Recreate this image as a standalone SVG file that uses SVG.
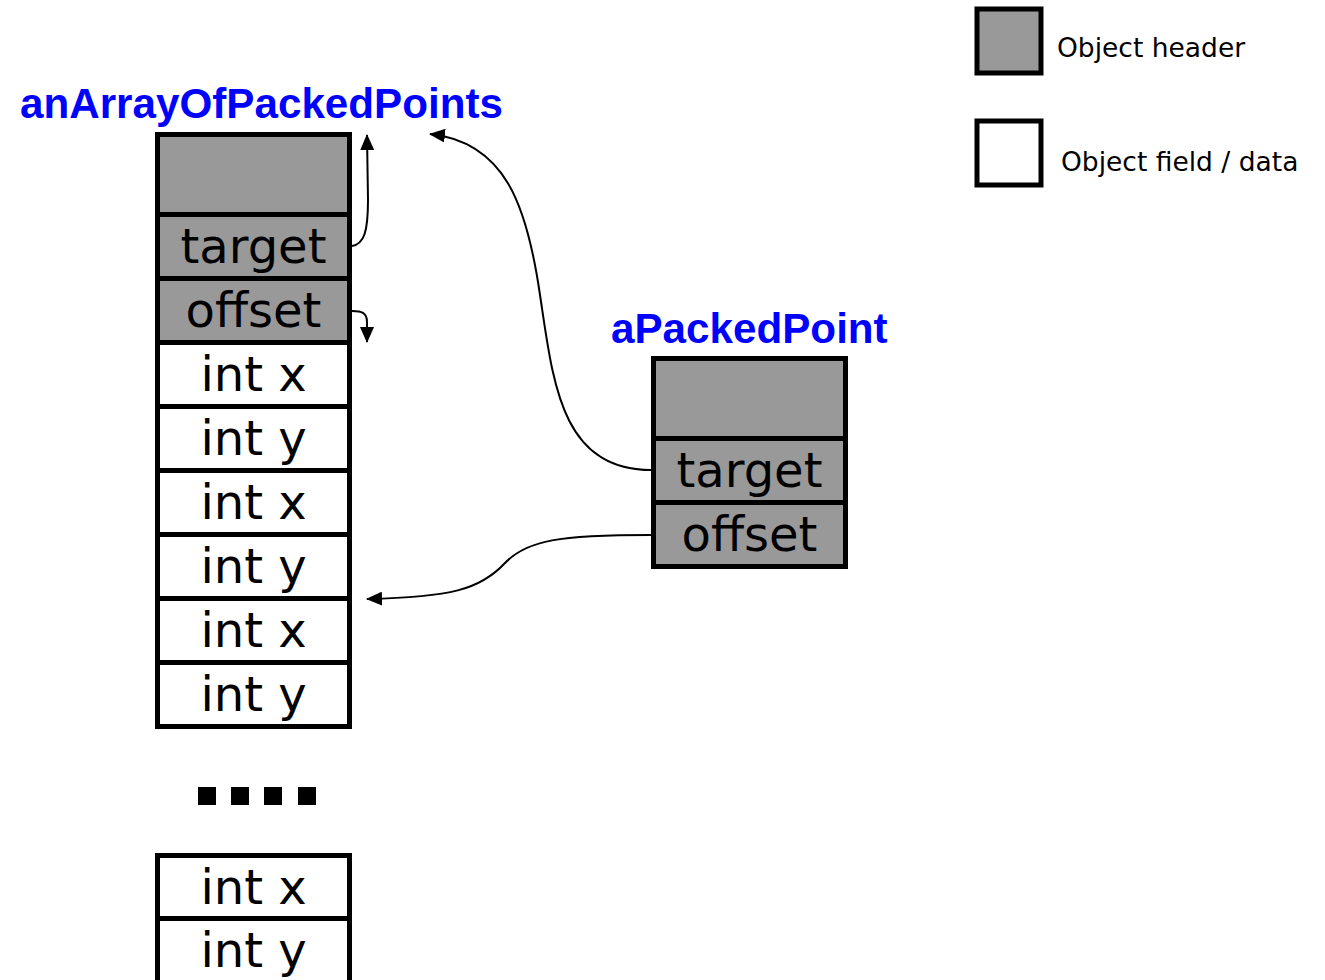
<svg xmlns="http://www.w3.org/2000/svg" width="1325" height="980" viewBox="0 0 1325 980">
  <defs>
    <marker id="arrow" viewBox="0 0 16 14" refX="15" refY="7" markerWidth="16" markerHeight="14" markerUnits="userSpaceOnUse" orient="auto">
      <path d="M0,0 L16,7 L0,14 Z" fill="#000"/>
    </marker>
  </defs>
  <style>
    .hdr { fill: #999999; stroke: #000; stroke-width: 5; }
    .fld { fill: #ffffff; stroke: #000; stroke-width: 5; }
    .cell { font-family: "DejaVu Sans", Verdana, sans-serif; font-size: 48px; fill: #000; text-anchor: middle; }
    .title { font-family: "Liberation Sans", Arial, sans-serif; font-weight: bold; font-size: 42.2px; fill: #0000ff; }
    .legend { font-family: "DejaVu Sans", Verdana, sans-serif; font-size: 26.5px; fill: #000; }
    .wire { fill: none; stroke: #000; stroke-width: 2; marker-end: url(#arrow); }
  </style>
  <rect width="1325" height="980" fill="#fff"/>

  <!-- legend -->
  <g id="legend-header">
    <rect class="hdr" x="977" y="9" width="64" height="64"/>
    <text class="legend" x="1057" y="57">Object header</text>
  </g>
  <g id="legend-field">
    <rect class="fld" x="977" y="121" width="64" height="64"/>
    <text class="legend" x="1061" y="171">Object field / data</text>
  </g>

  <!-- array object -->
  <g id="anArrayOfPackedPoints">
    <text class="title" x="20" y="118">anArrayOfPackedPoints</text>
    <rect class="hdr" x="157.5" y="134.5" width="192" height="80"/>
    <rect class="hdr" x="157.5" y="214.5" width="192" height="64"/>
    <text class="cell" x="253.5" y="263">target</text>
    <rect class="hdr" x="157.5" y="278.5" width="192" height="64"/>
    <text class="cell" x="253.5" y="327">offset</text>
    <rect class="fld" x="157.5" y="342.5" width="192" height="64"/>
    <text class="cell" x="253.5" y="391">int x</text>
    <rect class="fld" x="157.5" y="406.5" width="192" height="64"/>
    <text class="cell" x="253.5" y="455">int y</text>
    <rect class="fld" x="157.5" y="470.5" width="192" height="64"/>
    <text class="cell" x="253.5" y="519">int x</text>
    <rect class="fld" x="157.5" y="534.5" width="192" height="64"/>
    <text class="cell" x="253.5" y="583">int y</text>
    <rect class="fld" x="157.5" y="598.5" width="192" height="64"/>
    <text class="cell" x="253.5" y="647">int x</text>
    <rect class="fld" x="157.5" y="662.5" width="192" height="64"/>
    <text class="cell" x="253.5" y="711">int y</text>
  </g>

  <!-- elision -->
  <g id="ellipsis" fill="#000">
    <rect x="198" y="787" width="18" height="18"/>
    <rect x="231" y="787" width="18" height="18"/>
    <rect x="264" y="787" width="18" height="18"/>
    <rect x="298" y="787" width="18" height="18"/>
  </g>

  <g id="array-tail">
    <rect class="fld" x="157.5" y="855.5" width="192" height="63"/>
    <text class="cell" x="253.5" y="904">int x</text>
    <rect class="fld" x="157.5" y="918.5" width="192" height="66"/>
    <text class="cell" x="253.5" y="967">int y</text>
  </g>

  <!-- packed point object -->
  <g id="aPackedPoint">
    <text class="title" x="611" y="343">aPackedPoint</text>
    <rect class="hdr" x="653.5" y="358.5" width="192" height="80"/>
    <rect class="hdr" x="653.5" y="438.5" width="192" height="64"/>
    <text class="cell" x="749.5" y="487">target</text>
    <rect class="hdr" x="653.5" y="502.5" width="192" height="64"/>
    <text class="cell" x="749.5" y="551">offset</text>
  </g>

  <!-- references -->
  <g id="connectors">
    <path class="wire" d="M352,246 C364,244 368,232 368,200 L367,135"/>
    <path class="wire" d="M352,311 C362,311 367,313 367,322 L367,342"/>
    <path class="wire" d="M651,470 C560,470 553,380 540,295 C527,205 505,142 430,134"/>
    <path class="wire" d="M651,535 C560,535 527,540 505,563 C480,590 450,597 367,599"/>
  </g>
</svg>
